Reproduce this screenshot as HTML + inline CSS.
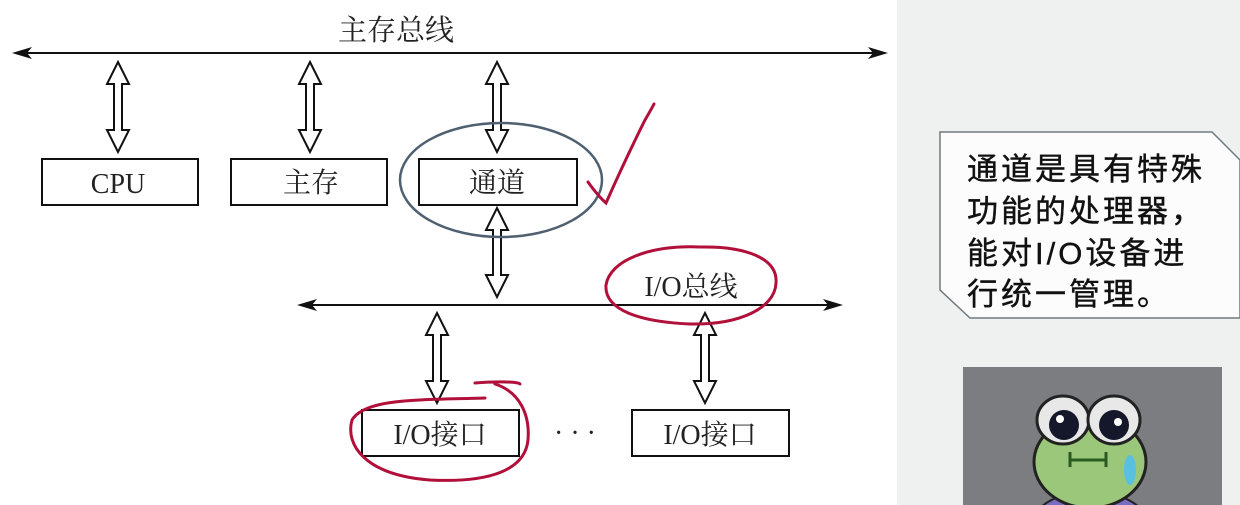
<!DOCTYPE html>
<html><head><meta charset="utf-8"><style>
html,body{margin:0;padding:0;width:1240px;height:505px;overflow:hidden;background:#eef0ef}
svg{display:block}
</style></head><body>
<svg width="1240" height="505" viewBox="0 0 1240 505" xmlns="http://www.w3.org/2000/svg">
<defs><clipPath id="fc"><rect x="963" y="367" width="259" height="138"/></clipPath></defs>
<rect x="0" y="0" width="1240" height="505" fill="#eff1f0"/>
<rect x="0" y="0" width="897" height="505" fill="#ffffff"/>
<g font-family="Liberation Serif, Noto Serif CJK SC, serif" font-size="29" fill="#222" text-anchor="middle">
<text x="396" y="40">主存总线</text>
</g>
<line x1="20" y1="53" x2="880" y2="53" stroke="#111" stroke-width="2"/>
<polygon points="12,53 32,47 27,53 32,59" fill="#111"/>
<polygon points="888,53 868,47 873,53 868,59" fill="#111"/>
<line x1="305" y1="305" x2="835" y2="305" stroke="#111" stroke-width="2"/>
<polygon points="297,305 317,299 312,305 317,311" fill="#111"/>
<polygon points="843,305 823,299 828,305 823,311" fill="#111"/>
<g fill="#fff" stroke="#111" stroke-width="2" stroke-linejoin="miter">
<polygon points="118,62 129,84 122,84 122,130 129,130 118,152 107,130 114,130 114,84 107,84"/>
<polygon points="310,62 321,84 314,84 314,130 321,130 310,152 299,130 306,130 306,84 299,84"/>
<polygon points="497,62 508,84 501,84 501,130 508,130 497,152 486,130 493,130 493,84 486,84"/>
<polygon points="497,208 508,230 501,230 501,275 508,275 497,297 486,275 493,275 493,230 486,230"/>
<polygon points="437,313 448,335 441,335 441,381 448,381 437,403 426,381 433,381 433,335 426,335"/>
<polygon points="705,313 716,335 709,335 709,381 716,381 705,403 694,381 701,381 701,335 694,335"/>
<rect x="42" y="159" width="156" height="46"/>
<rect x="231" y="159" width="156" height="46"/>
<rect x="419" y="159" width="158" height="46"/>
<rect x="362" y="410" width="157" height="46"/>
<rect x="632" y="410" width="157" height="46"/>
</g>
<g font-family="Liberation Serif, Noto Serif CJK SC, serif" font-size="28" fill="#222" text-anchor="middle">
<text x="118" y="193">CPU</text>
<text x="311" y="192">主存</text>
<text x="497" y="192">通道</text>
<text x="691" y="296">I/O总线</text>
<text x="440" y="444">I/O接口</text>
<text x="710" y="444">I/O接口</text>
<text x="575" y="442">· · ·</text>
</g>
<ellipse cx="501" cy="180" rx="101" ry="57" fill="none" stroke="#4f6070" stroke-width="2.5"/>
<g fill="none" stroke="#b0103a" stroke-width="3" stroke-linecap="round">
<path d="M588,182 Q598,196 606,203 Q625,160 645,120 Q652,108 654,104"/>
<path d="M700,247 C650,245 610,260 606,285 C604,310 640,322 690,324 C740,325 775,308 776,283 C778,258 745,246 700,247"/>
<path d="M475,383 C500,381 520,382 520,384 M485,398 C420,400 365,398 352,420 C345,445 365,475 430,480 C490,483 525,470 528,440 C530,415 520,392 495,384"/>
</g>
<polygon points="940,132 1212,132 1240,160 1240,318 970,318 940,290" fill="#fbfcfb" stroke="#6f7a80" stroke-width="1.5"/>
<g font-family="Liberation Sans, Noto Sans CJK SC, sans-serif" font-size="31" fill="#111" stroke="#111" stroke-width="0.4" letter-spacing="3">
<text x="967" y="180">通道是具有特殊</text>
<text x="967" y="222">功能的处理器，</text>
<text x="967" y="264">能对I/O设备进</text>
<text x="967" y="305">行统一管理。</text>
</g>
<g clip-path="url(#fc)">
<rect x="963" y="367" width="259" height="138" fill="#7b7d80"/>
<ellipse cx="1090" cy="520" rx="55" ry="28" fill="#7a6cc0" stroke="#222" stroke-width="2"/>
<ellipse cx="1090" cy="462" rx="56" ry="46" fill="#9bc77a" stroke="#222" stroke-width="3"/>
<ellipse cx="1063" cy="420" rx="26" ry="24" fill="#e8e8e8" stroke="#222" stroke-width="3"/>
<ellipse cx="1114" cy="420" rx="26" ry="24" fill="#e8e8e8" stroke="#222" stroke-width="3"/>
<circle cx="1064" cy="425" r="15" fill="#14182a"/>
<circle cx="1114" cy="425" r="15" fill="#14182a"/>
<circle cx="1060" cy="419" r="4" fill="#fff"/>
<circle cx="1118" cy="422" r="4" fill="#fff"/>
<path d="M1070,460 L1106,460 M1070,452 L1070,467 M1106,452 L1106,467" stroke="#2a5a20" stroke-width="3" fill="none"/>
<ellipse cx="1130" cy="470" rx="6" ry="15" fill="#5ac0e0"/>
</g>
</svg>
</body></html>
